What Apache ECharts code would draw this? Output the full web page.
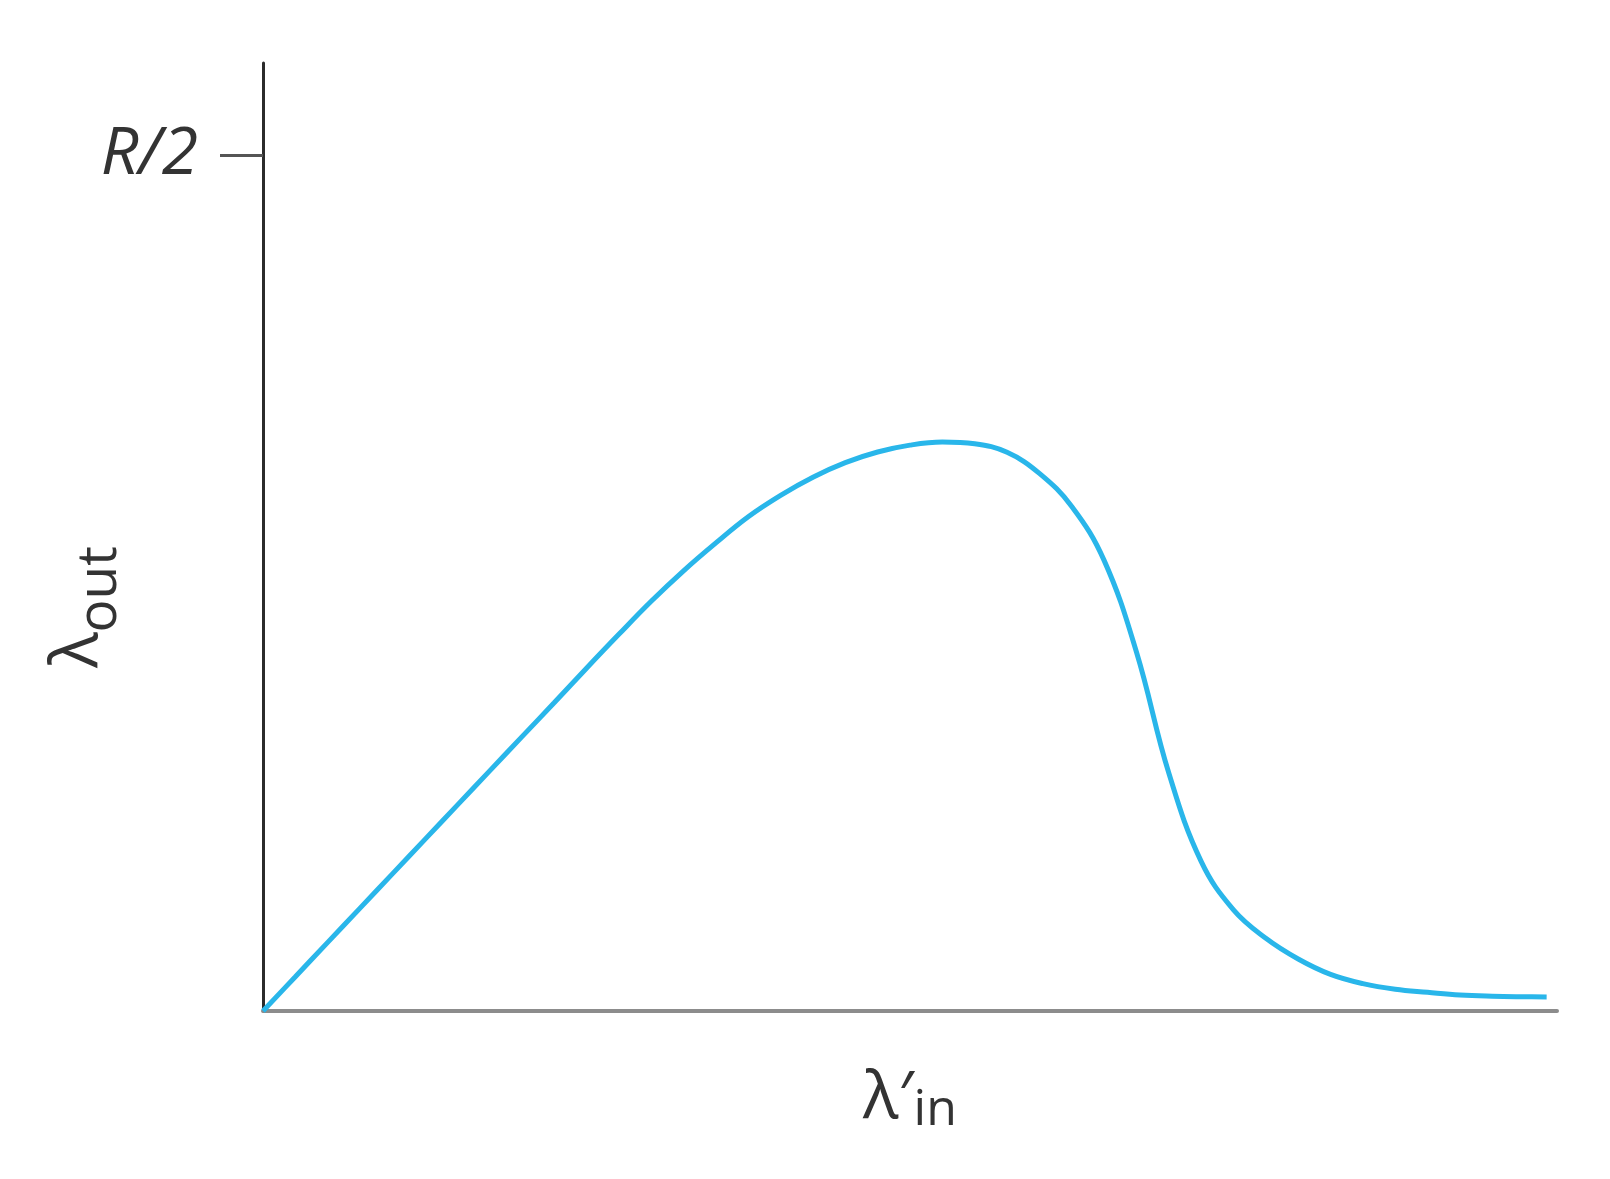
<!DOCTYPE html>
<html>
<head>
<meta charset="utf-8">
<script src="https://cdn.jsdelivr.net/npm/echarts@6/dist/echarts.min.js"></script>
<style>
html,body{margin:0;padding:0;background:#fff;}
#chart{width:1610px;height:1179px;}
</style>
</head>
<body>
<div id="chart"></div>
<script>
// Offered load (x, arbitrary units 0..100) and throughput (y, in units of R)
const lambdaIn = [0, 2.5, 5, 7.5, 10, 12.5, 15, 17.5, 20, 22.5, 25, 27.5, 30, 32.5, 35, 37.5, 40, 42.5, 45, 47.5, 50, 52.5, 55, 57.5, 60, 62.5, 65, 67.5, 70, 72.5, 75, 77.5, 80, 82.5, 85, 87.5, 90, 92.5, 95, 97.5, 99.2];
const lambdaOut = [0, 0.0200, 0.0401, 0.0601, 0.0801, 0.1001, 0.1201, 0.1401, 0.1601, 0.1800, 0.2002, 0.2200, 0.2393, 0.2571, 0.2734, 0.2887, 0.3012, 0.3118, 0.3203, 0.3265, 0.3305, 0.3323, 0.3313, 0.3263, 0.3140, 0.2947, 0.2632, 0.2097, 0.1390, 0.0874, 0.0591, 0.0425, 0.0304, 0.0214, 0.0160, 0.0127, 0.0109, 0.0093, 0.0086, 0.0083, 0.0082];
const yTickValues = [0.5];
const yTickLabels = ['R/2'];

const seriesData = lambdaIn.map((x, i) => [x, lambdaOut[i]]);
const chart = echarts.init(document.getElementById('chart'), null, {renderer: 'canvas'});
const FONT = '"Open Sans", "Noto Sans", sans-serif';
chart.setOption({
  animation: false,
  backgroundColor: '#ffffff',
  grid: {left: 263, right: 53, top: 63, bottom: 168, containLabel: false},
  xAxis: {
    type: 'value', min: 0, max: 100,
    axisLine: {show: true, onZero: false, lineStyle: {color: '#8c8c8c', width: 4}},
    axisTick: {show: false}, axisLabel: {show: false}, splitLine: {show: false},
    name: '{a|λ′}{b|in}',
    nameLocation: 'middle', nameGap: 55, nameMoveOverlap: false,
    nameTextStyle: {
      rich: {
        a: {fontFamily: FONT, fontSize: 66, color: '#333', lineHeight: 70, verticalAlign: 'top'},
        b: {fontFamily: FONT, fontSize: 50, color: '#333', lineHeight: 50, padding: [20, 0, 0, 0], verticalAlign: 'top'}
      }
    }
  },
  yAxis: {
    type: 'value', min: 0, max: 0.5537,
    axisLine: {show: true, onZero: false, lineStyle: {color: '#2b2b2b', width: 3}},
    axisTick: {show: true, customValues: yTickValues, length: 43, lineStyle: {color: '#555', width: 3}},
    axisLabel: {
      show: true, customValues: yTickValues, margin: 65, padding: [6, 0, 0, 0],
      formatter: (v) => { const i = yTickValues.indexOf(v); return i >= 0 ? yTickLabels[i] : ''; },
      fontFamily: FONT, fontSize: 66, fontStyle: 'italic', color: '#333'
    },
    splitLine: {show: false},
    name: '{a|λ}{b|out}',
    nameLocation: 'middle', nameGap: 148, nameRotate: 90, nameMoveOverlap: false,
    nameTextStyle: {
      padding: [0, 140, 0, 0],
      rich: {
        a: {fontFamily: FONT, fontSize: 66, color: '#333', lineHeight: 70, verticalAlign: 'top'},
        b: {fontFamily: FONT, fontSize: 55, color: '#333', lineHeight: 55, padding: [28, 0, 0, 0], verticalAlign: 'top'}
      }
    }
  },
  series: [{
    type: 'line', data: seriesData, smooth: 0.4, showSymbol: false, clip: false,
    lineStyle: {color: '#29b6ea', width: 5}
  }]
});
</script>
</body>
</html>
